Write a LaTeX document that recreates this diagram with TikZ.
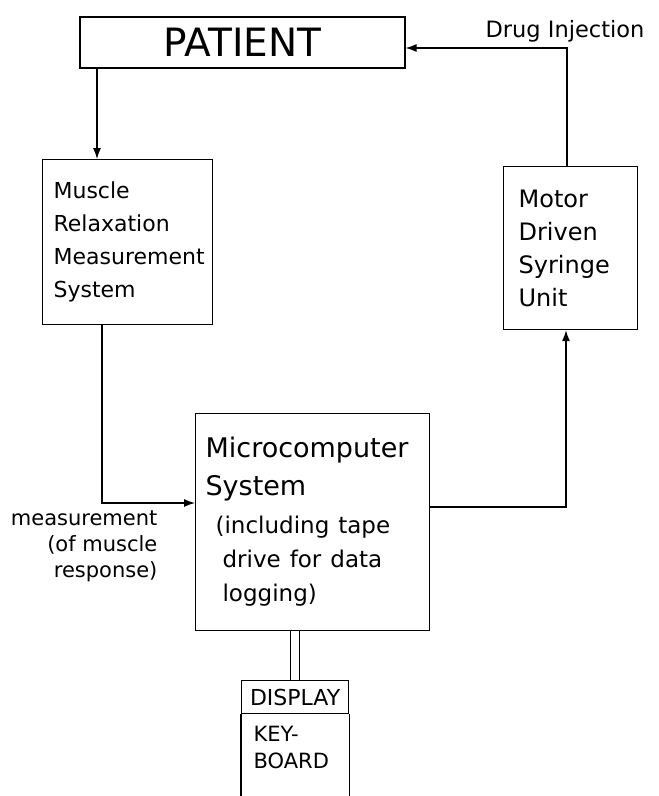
\documentclass[tikz,border=0pt]{standalone}
\usepackage{fontspec}
\setmainfont{DejaVu Sans}
\usetikzlibrary{arrows.meta}
\begin{document}
\begin{tikzpicture}[x=1pt, y=-1pt, line width=1.2pt,
    block/.style={draw, anchor=north west, inner ysep=0pt, align=left},
    flow/.style={-{Latex[length=11pt,width=8pt]}},
    boxtext/.style={font=\fontsize{22}{33}\selectfont}]
    \useasboundingbox (0,0) rectangle (659,796);
    \clip (0,0) rectangle (659,796);
    % boxes
    \node[draw, minimum width=325pt, minimum height=51pt, inner sep=0pt,
          font=\fontsize{39}{39}\selectfont] (patient) at (242.5,42.5) {PATIENT};
    \node[block, boxtext, minimum height=165pt, inner xsep=11pt, text width=148pt]
          (muscle) at (42,159) {Muscle\\Relaxation\\Measurement\\System};
    \node[block, font=\fontsize{24}{33}\selectfont, minimum height=163pt, inner xsep=15pt, text width=104pt]
          (motor) at (503,166) {Motor\\Driven\\Syringe\\Unit};
    \node[block, minimum height=217pt, inner xsep=10pt, text width=214pt]
          (micro) at (195,413) {{\fontsize{27}{38}\selectfont Microcomputer\\System\par}
          \vspace{4pt}{\fontsize{23}{34}\selectfont \spaceskip=9pt \hspace*{10pt}(including tape\\
          \hspace*{17pt}drive for data\\\hspace*{17pt}logging)\par}};
    \node[draw, anchor=north west, minimum width=107pt, minimum height=33pt, inner sep=0pt,
          font=\fontsize{22}{22}\selectfont] (disp) at (241,680) {DISPLAY};
    \node[anchor=north west, inner xsep=12pt, inner ysep=11pt, text width=83pt, align=left,
          font=\fontsize{21}{27}\selectfont] (keys) at (disp.south west) {KEY-\\BOARD};
    % labels
    \node[font=\fontsize{22.5}{22.5}\selectfont] (druglbl) at (565,31) {Drug Injection};
    \node[anchor=east, align=right, font=\fontsize{21}{26}\selectfont, inner sep=0pt]
          (measlbl) at (158,546) {measurement\\(of muscle\\response)};
    % connectors
    \coordinate (pin) at (97,0);
    \coordinate (meas) at (102,503);
    \coordinate (drv) at (566,507);
    \coordinate (inj) at (567,48);
    \coordinate (bot) at (0,820);
    \draw[flow] (patient.south -| pin) -- (muscle.north -| pin);
    \draw[flow] (muscle.south -| meas) |- (micro.west |- meas);
    \draw[flow] (micro.east |- drv) -| (motor.south -| drv);
    \draw[flow] (motor.north -| inj) |- (patient.east |- inj);
    \draw[double, double distance=8pt, line width=1.2pt] (micro.south -| disp.north) -- (disp.north);
    \draw (keys.north west) -- (keys.north west |- bot) (keys.north east) -- (keys.north east |- bot);
\end{tikzpicture}
\end{document}
